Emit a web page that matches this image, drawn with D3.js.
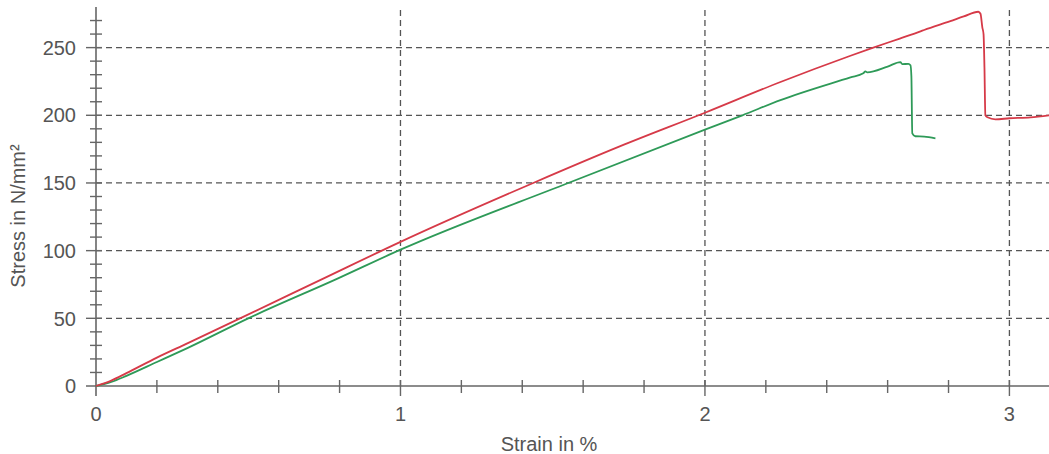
<!DOCTYPE html>
<html>
<head>
<meta charset="utf-8">
<script src="https://cdn.jsdelivr.net/npm/d3@7"></script>
<style>
	body { margin: 0; background: #fff; }
	text { font-family: "Liberation Sans", Arial, sans-serif; }
</style>
</head>
<body>
<svg class="mainsvg" width="1049" height="454"></svg>
<script>
// strain in %, stress in N/mm2
var redStrain = [0, 0.05, 0.1, 0.2, 0.3, 0.473, 0.736, 1, 1.436, 1.72, 2, 2.248, 2.478, 2.553, 2.64, 2.708, 2.72, 2.806, 2.85, 2.898, 2.905, 2.911, 2.915, 2.918, 2.921, 2.928, 2.954, 3.0, 3.069, 3.131];
var redStress = [0, 4, 9.5, 21, 31.5, 50, 78.2, 106.5, 150, 177, 201.9, 224.6, 244, 250, 256.7, 262, 263, 269.5, 273, 276.5, 275, 265, 260, 235.5, 200, 198.5, 197, 197.8, 198.5, 200];

var greenStrain = [0, 0.05, 0.1, 0.2, 0.3, 0.5, 0.795, 1, 1.551, 2, 2.123, 2.248, 2.478, 2.52, 2.527, 2.533, 2.6, 2.642, 2.648, 2.668, 2.675, 2.678, 2.681, 2.691, 2.72, 2.757];
var greenStress = [0, 3, 7.5, 17.7, 28, 50, 79.5, 100.7, 150, 189.4, 200, 211.2, 228, 231, 232.5, 231.7, 236, 239.3, 237.8, 238, 237, 229, 186.7, 184.5, 184.2, 183];

var xMajor = [0, 1, 2, 3];
var yMajor = [0, 50, 100, 150, 200, 250];

var _width = 1049, _height = 454;
var svg = d3.select('.mainsvg');

var x = d3.scaleLinear().domain([0, 3.13]).range([96, 1049]);
var y = d3.scaleLinear().domain([0, 280]).range([386, 7]);

var axisColor = '#666';
var textColor = '#555';

// grid
svg.selectAll('.hgrid')
	.data(yMajor.filter(d => d > 0))
	.enter().append('line')
	.attr('x1', x(0))
	.attr('x2', _width)
	.attr('y1', d => y(d))
	.attr('y2', d => y(d))
	.attr('stroke', '#555')
	.attr('stroke-width', 1.3)
	.attr('stroke-dasharray', '6,4')

svg.selectAll('.vgrid')
	.data(xMajor.filter(d => d > 0))
	.enter().append('line')
	.attr('x1', d => x(d))
	.attr('x2', d => x(d))
	.attr('y1', 10)
	.attr('y2', y(0))
	.attr('stroke', '#555')
	.attr('stroke-width', 1.3)
	.attr('stroke-dasharray', '6,4')

// axes
svg.append('line')
	.attr('x1', x(0)).attr('x2', x(0))
	.attr('y1', y(280)).attr('y2', y(0) + 10)
	.attr('stroke', axisColor)
	.attr('stroke-width', 1.6)

svg.append('line')
	.attr('x1', x(0) - 10).attr('x2', _width)
	.attr('y1', y(0)).attr('y2', y(0))
	.attr('stroke', axisColor)
	.attr('stroke-width', 1.6)

svg.selectAll('.ytick')
	.data(d3.range(10, 280, 10))
	.enter().append('line')
	.attr('x1', d => d % 50 == 0 ? x(0) - 10 : x(0) - 6)
	.attr('x2', x(0) + 6)
	.attr('y1', d => y(d))
	.attr('y2', d => y(d))
	.attr('stroke', axisColor)
	.attr('stroke-width', 1.4)

svg.selectAll('.xtick')
	.data(d3.range(1, 16).map(d => d * 0.2))
	.enter().append('line')
	.attr('x1', d => x(d))
	.attr('x2', d => x(d))
	.attr('y1', d => y(0) - 6)
	.attr('y2', d => Math.abs(d - Math.round(d)) < 1e-6 ? y(0) + 10 : y(0) + 7)
	.attr('stroke', axisColor)
	.attr('stroke-width', 1.4)

svg.selectAll('.ylabel')
	.data(yMajor)
	.enter().append('text')
	.attr('x', 76)
	.attr('y', d => y(d))
	.attr('dy', '0.36em')
	.attr('fill', textColor)
	.attr('font-size', '20px')
	.style('text-anchor', 'end')
	.text(d => d)

svg.selectAll('.xlabel')
	.data(xMajor)
	.enter().append('text')
	.attr('x', d => x(d))
	.attr('y', 421)
	.attr('fill', textColor)
	.attr('font-size', '20px')
	.style('text-anchor', 'middle')
	.text(d => d)

svg.append('text')
	.attr('x', 549)
	.attr('y', 451)
	.attr('fill', textColor)
	.attr('font-size', '20px')
	.style('text-anchor', 'middle')
	.text('Strain in %')

svg.append('text')
	.attr('transform', 'translate(25,216) rotate(-90)')
	.attr('fill', textColor)
	.attr('font-size', '20px')
	.style('text-anchor', 'middle')
	.text('Stress in N/mm²')

// curves
var line = d3.line()
	.curve(d3.curveMonotoneX)
	.x(d => x(d[0]))
	.y(d => y(d[1]))

svg.append('path')
	.datum(greenStrain.map((s, i) => [s, greenStress[i]]))
	.attr('d', line)
	.attr('fill', 'none')
	.attr('stroke', '#2e9a58')
	.attr('stroke-width', 1.8)

svg.append('path')
	.datum(redStrain.map((s, i) => [s, redStress[i]]))
	.attr('d', line)
	.attr('fill', 'none')
	.attr('stroke', '#d63a48')
	.attr('stroke-width', 1.8)
</script>
</body>
</html>
